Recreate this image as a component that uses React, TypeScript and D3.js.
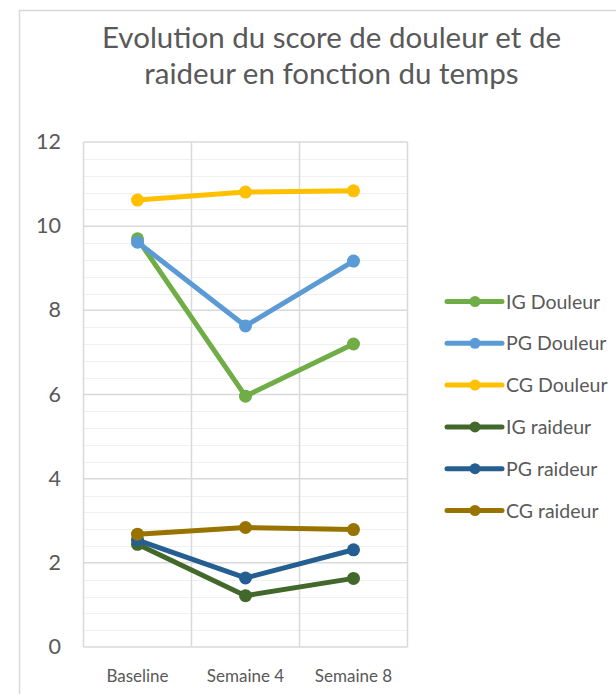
import React from "react";
import * as d3 from "d3";

const categories = ["Baseline", "Semaine 4", "Semaine 8"];
const seriesNames = ["IG Douleur", "PG Douleur", "CG Douleur", "IG raideur", "PG raideur", "CG raideur"];
const seriesColors = ["#70ad47", "#5b9bd5", "#ffc000", "#43682b", "#255e91", "#997300"];
const igDouleur = [9.7, 5.96, 7.2];
const pgDouleur = [9.62, 7.63, 9.17];
const cgDouleur = [10.62, 10.81, 10.84];
const igRaideur = [2.44, 1.22, 1.63];
const pgRaideur = [2.54, 1.64, 2.31];
const cgRaideur = [2.68, 2.84, 2.79];
const seriesValues = [igDouleur, pgDouleur, cgDouleur, igRaideur, pgRaideur, cgRaideur];
const yTicks = [0, 2, 4, 6, 8, 10, 12];
const titleLines = ["Evolution du score de douleur et de", "raideur en fonction du temps"];

const W = 616;
const H = 694;
const FONT = "Lato, 'Open Sans', sans-serif";
const TEXT = "#595959";

export default function App() {
  const plot = { left: 83.5, right: 407.5, top: 142, bottom: 647 };
  const x = d3.scaleBand<string>().domain(categories).range([plot.left, plot.right]);
  const y = d3.scaleLinear().domain([0, 12]).range([plot.bottom, plot.top]);
  const minorTicks = d3.range(0, 12.0001, 0.4).filter((v) => Math.abs(v / 2 - Math.round(v / 2)) > 1e-6);
  const line = d3
    .line<number>()
    .x((_, i) => (x(categories[i]) as number) + x.bandwidth() / 2)
    .y((d) => y(d));

  const legendX = 447;
  const legendY0 = 301.5;
  const legendStep = 41.8;

  return (
    <svg width={W} height={H} style={{ position: "absolute", left: 0, top: 0, background: "#fff" }}>
      <rect x={0} y={0} width={W} height={H} fill="#fff" />
      <rect x={19.5} y={10.5} width={700} height={800} fill="#fff" stroke="#d9d9d9" strokeWidth={1.5} />
      {titleLines.map((t, i) => (
        <text key={i} x={331.5} y={47.5 + i * 36.5} textAnchor="middle" fontFamily={FONT} fontSize={29.5} fill={TEXT}>
          {t}
        </text>
      ))}
      {minorTicks.map((v) => (
        <line key={"m" + v} x1={plot.left} x2={plot.right} y1={Math.round(y(v)) + 0.5} y2={Math.round(y(v)) + 0.5} stroke="#f0f0f0" strokeWidth={1} />
      ))}
      {yTicks.map((v) => (
        <line key={"g" + v} x1={plot.left} x2={plot.right} y1={y(v)} y2={y(v)} stroke="#d9d9d9" strokeWidth={1.5} />
      ))}
      {categories.map((c) => (
        <line key={"v" + c} x1={x(c) as number} x2={x(c) as number} y1={plot.top} y2={plot.bottom} stroke="#d9d9d9" strokeWidth={1.5} />
      ))}
      <line x1={plot.right} x2={plot.right} y1={plot.top} y2={plot.bottom} stroke="#d9d9d9" strokeWidth={1.5} />
      {yTicks.map((v) => (
        <text key={"t" + v} x={61} y={y(v) + 7} textAnchor="end" fontFamily={FONT} fontSize={21.5} fill={TEXT}>
          {v}
        </text>
      ))}
      {categories.map((c) => (
        <text key={"c" + c} x={(x(c) as number) + x.bandwidth() / 2} y={681.5} textAnchor="middle" fontFamily={FONT} fontSize={17} fill={TEXT}>
          {c}
        </text>
      ))}
      {seriesValues.map((vals, si) => (
        <g key={"s" + si}>
          <path d={line(vals) || ""} fill="none" stroke={seriesColors[si]} strokeWidth={5} strokeLinejoin="round" strokeLinecap="round" />
          {vals.map((v, i) => (
            <circle key={i} cx={(x(categories[i]) as number) + x.bandwidth() / 2} cy={y(v)} r={6.5} fill={seriesColors[si]} />
          ))}
        </g>
      ))}
      {seriesNames.map((n, i) => {
        const ly = legendY0 + i * legendStep;
        return (
          <g key={"l" + n}>
            <line x1={legendX} x2={502} y1={ly} y2={ly} stroke={seriesColors[i]} strokeWidth={5} strokeLinecap="round" />
            <circle cx={475} cy={ly} r={5.5} fill={seriesColors[i]} />
            <text x={506} y={ly + 7} fontFamily={FONT} fontSize={19.5} fill={TEXT}>
              {n}
            </text>
          </g>
        );
      })}
    </svg>
  );
}
